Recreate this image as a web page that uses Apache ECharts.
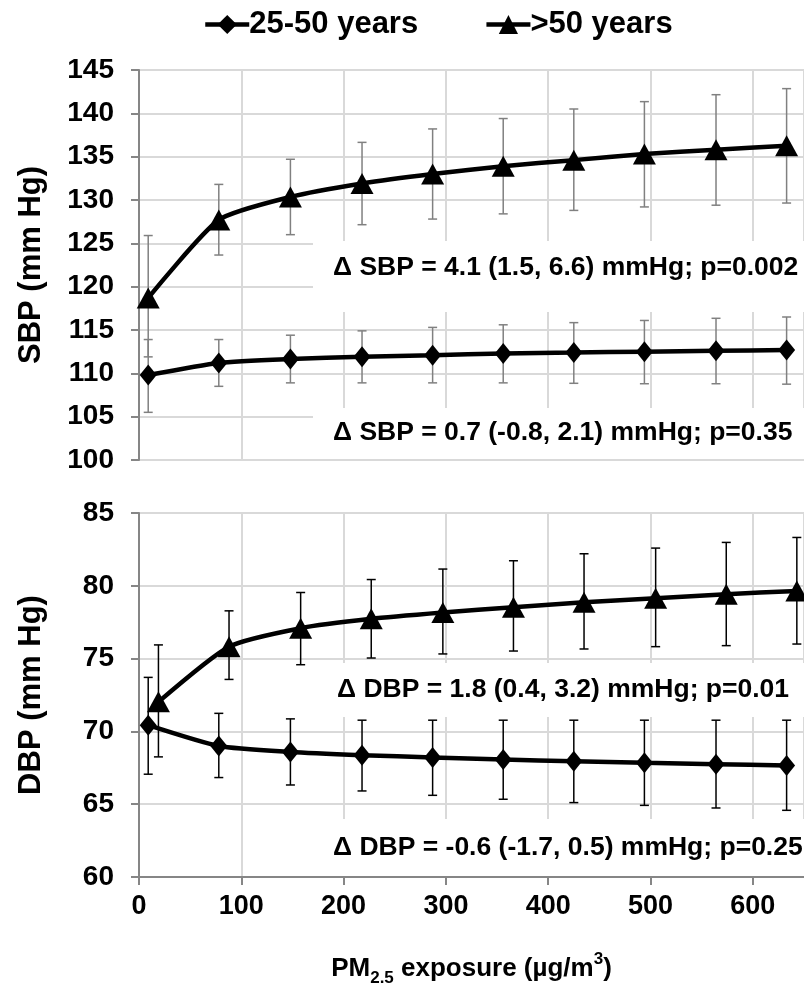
<!DOCTYPE html>
<html>
<head>
<meta charset="utf-8">
<script src="https://cdn.jsdelivr.net/npm/echarts@6/dist/echarts.min.js"></script>
<style>
  html, body { margin: 0; padding: 0; background: #fff; }
  #chart { width: 804px; height: 991px; }
</style>
</head>
<body>
<div id="chart"></div>
<script>
// PM2.5 exposure (µg/m3) at each estimate point
const pmYoung = [9, 78, 148, 218, 287, 356, 425, 494, 564, 633];
const pmOldSbp = [9, 78, 148, 218, 287, 356, 425, 494, 564, 633];
const pmOldDbp = [19, 88, 158, 227, 297, 366, 435, 505, 574, 643];

// Systolic blood pressure (mm Hg): estimate, lower and upper limit
const sbpYoung = [109.8, 111.2, 111.65, 111.9, 112.1, 112.3, 112.4, 112.5, 112.6, 112.7];
const sbpYoungLow = [105.5, 108.5, 108.9, 108.9, 108.9, 108.9, 108.85, 108.8, 108.8, 108.75];
const sbpYoungHigh = [113.9, 113.9, 114.4, 114.9, 115.3, 115.6, 115.85, 116.1, 116.35, 116.5];

const sbpOld = [118.7, 127.7, 130.35, 131.9, 133.0, 133.9, 134.6, 135.3, 135.8, 136.25];
const sbpOldLow = [111.9, 123.65, 126.0, 127.15, 127.8, 128.4, 128.8, 129.2, 129.4, 129.65];
const sbpOldHigh = [125.9, 131.8, 134.7, 136.65, 138.2, 139.4, 140.5, 141.35, 142.15, 142.85];

// Diastolic blood pressure (mm Hg): estimate, lower and upper limit
const dbpYoung = [70.43, 69.0, 68.59, 68.37, 68.21, 68.07, 67.95, 67.84, 67.75, 67.66];
const dbpYoungLow = [67.06, 66.83, 66.32, 65.91, 65.61, 65.34, 65.11, 64.92, 64.74, 64.58];
const dbpYoungHigh = [73.71, 71.24, 70.86, 70.77, 70.77, 70.77, 70.77, 70.77, 70.77, 70.77];

const dbpOld = [72.03, 75.82, 77.09, 77.73, 78.16, 78.53, 78.87, 79.15, 79.42, 79.65];
const dbpOldLow = [68.25, 73.57, 74.58, 75.04, 75.32, 75.52, 75.66, 75.82, 75.89, 76.0];
const dbpOldHigh = [75.94, 78.28, 79.54, 80.43, 81.15, 81.72, 82.2, 82.59, 82.98, 83.32];

const groupNames = ['25-50 years', '>50 years'];
const xTicks = [0, 100, 200, 300, 400, 500, 600];

const notes = [
  '\u0394 SBP = 4.1 (1.5, 6.6) mmHg; p=0.002',
  '\u0394 SBP = 0.7 (-0.8, 2.1) mmHg; p=0.35',
  '\u0394 DBP = 1.8 (0.4, 3.2) mmHg; p=0.01',
  '\u0394 DBP = -0.6 (-1.7, 0.5) mmHg; p=0.25'
];

const FONT = 'Liberation Sans, Arial, sans-serif';
const GRID_COLOR = '#d9d9d9';
const AXIS_COLOR = '#868686';

function pairs(xs, ys) { return xs.map((x, i) => [x, ys[i]]); }
function triples(xs, lo, hi) { return xs.map((x, i) => [x, lo[i], hi[i]]); }

function errorBars(name, gridIdx, xs, lo, hi, color) {
  return {
    type: 'custom',
    name: name,
    xAxisIndex: gridIdx,
    yAxisIndex: gridIdx,
    z: 3,
    silent: true,
    data: triples(xs, lo, hi),
    encode: { x: 0, y: [1, 2] },
    renderItem: function (params, api) {
      const x = api.value(0);
      const pLo = api.coord([x, api.value(1)]);
      const pHi = api.coord([x, api.value(2)]);
      const half = 4.5;
      const style = { stroke: color, lineWidth: 1.5, fill: null };
      return {
        type: 'group',
        children: [
          { type: 'line', shape: { x1: pLo[0], y1: pLo[1], x2: pHi[0], y2: pHi[1] }, style: style },
          { type: 'line', shape: { x1: pLo[0] - half, y1: pLo[1], x2: pLo[0] + half, y2: pLo[1] }, style: style },
          { type: 'line', shape: { x1: pHi[0] - half, y1: pHi[1], x2: pHi[0] + half, y2: pHi[1] }, style: style }
        ]
      };
    }
  };
}

function lineSeries(name, gridIdx, xs, ys, symbol, size) {
  return {
    type: 'line',
    name: name,
    xAxisIndex: gridIdx,
    yAxisIndex: gridIdx,
    z: 4,
    smooth: 0.2,
    symbol: symbol,
    symbolSize: size,
    showAllSymbol: true,
    lineStyle: { color: '#000', width: 4.5 },
    itemStyle: { color: '#000', borderWidth: 0 },
    emphasis: { disabled: true },
    data: pairs(xs, ys)
  };
}

const diamondSize = [17, 21];
const triangleSize = [23, 21];

function xAxisFor(gridIdx, showLabels) {
  return {
    type: 'value',
    gridIndex: gridIdx,
    min: 0,
    max: 650,
    interval: 100,
    axisLine: { show: showLabels, onZero: false, lineStyle: { color: AXIS_COLOR, width: 2 } },
    axisTick: { show: showLabels, inside: false, length: 8, lineStyle: { color: AXIS_COLOR, width: 2 } },
    splitLine: { show: true, lineStyle: { color: GRID_COLOR, width: 2 } },
    axisLabel: {
      show: showLabels,
      showMaxLabel: false,
      margin: 16,
      color: '#000',
      fontFamily: FONT,
      fontWeight: 'bold',
      fontSize: 27,
      formatter: v => (xTicks.indexOf(v) >= 0 ? String(v) : '')
    },
    name: showLabels ? '{t|PM}{sub|2.5}{t| exposure (\u00b5g/m}{sup|3}{t|)}' : '',
    nameLocation: 'middle',
    nameGap: 74,
    nameTextStyle: {
      rich: {
        t: { fontFamily: FONT, fontWeight: 'bold', fontSize: 26, color: '#000', lineHeight: 36, verticalAlign: 'middle' },
        sub: { fontFamily: FONT, fontWeight: 'bold', fontSize: 17, color: '#000', lineHeight: 36, verticalAlign: 'bottom' },
        sup: { fontFamily: FONT, fontWeight: 'bold', fontSize: 17, color: '#000', lineHeight: 36, verticalAlign: 'top' }
      }
    }
  };
}

function yAxisFor(gridIdx, min, max, title) {
  return {
    type: 'value',
    gridIndex: gridIdx,
    min: min,
    max: max,
    interval: 5,
    axisLine: { show: true, onZero: false, lineStyle: { color: AXIS_COLOR, width: 2 } },
    axisTick: { show: true, inside: false, length: 8, lineStyle: { color: AXIS_COLOR, width: 2 } },
    splitLine: { show: true, lineStyle: { color: GRID_COLOR, width: 2 } },
    axisLabel: { margin: 25, color: '#000', fontFamily: FONT, fontWeight: 'bold', fontSize: 28 },
    name: title,
    nameLocation: 'middle',
    nameRotate: 90,
    nameGap: 92,
    nameTextStyle: { color: '#000', fontFamily: FONT, fontWeight: 'bold', fontSize: 31 }
  };
}

// White label panels that sit over the gridlines, with the effect text on top
function notePanel(x, y, w, h, text, tx, ty) {
  return [
    { type: 'rect', z: 1, silent: true, shape: { x: x, y: y, width: w, height: h }, style: { fill: '#fff' } },
    {
      type: 'text', z: 1, silent: true, x: tx, y: ty,
      style: {
        text: text, fill: '#000', font: 'bold 26.5px ' + FONT,
        textAlign: 'left', textVerticalAlign: 'middle'
      }
    }
  ];
}

const chart = echarts.init(document.getElementById('chart'), null, { renderer: 'canvas' });

chart.setOption({
  backgroundColor: '#fff',
  animation: false,
  legend: {
    top: 4,
    left: 198,
    itemWidth: 44,
    itemHeight: 24,
    itemGap: 66,
    data: groupNames,
    lineStyle: { width: 4.5 },
    textStyle: { color: '#000', fontFamily: FONT, fontWeight: 'bold', fontSize: 31, padding: [0, 0, 0, -5] },
    selectedMode: false
  },
  grid: [
    { left: 139, top: 70, width: 666, height: 390, containLabel: false },
    { left: 139, top: 513, width: 666, height: 364, containLabel: false }
  ],
  xAxis: [xAxisFor(0, false), xAxisFor(1, true)],
  yAxis: [
    yAxisFor(0, 100, 145, 'SBP (mm Hg)'),
    yAxisFor(1, 60, 85, 'DBP (mm Hg)')
  ],
  graphic: [
    ...notePanel(313, 241, 495, 71, notes[0], 333, 268),
    ...notePanel(313, 408, 495, 51, notes[1], 333, 433),
    ...notePanel(318, 663, 490, 54, notes[2], 337, 690),
    ...notePanel(318, 819, 490, 57, notes[3], 333, 848)
  ],
  series: [
    errorBars('sbp-young-ci', 0, pmYoung, sbpYoungLow, sbpYoungHigh, '#808080'),
    errorBars('sbp-old-ci', 0, pmOldSbp, sbpOldLow, sbpOldHigh, '#808080'),
    errorBars('dbp-young-ci', 1, pmYoung, dbpYoungLow, dbpYoungHigh, '#000'),
    errorBars('dbp-old-ci', 1, pmOldDbp, dbpOldLow, dbpOldHigh, '#000'),
    lineSeries(groupNames[0], 0, pmYoung, sbpYoung, 'diamond', diamondSize),
    lineSeries(groupNames[1], 0, pmOldSbp, sbpOld, 'triangle', triangleSize),
    lineSeries(groupNames[0], 1, pmYoung, dbpYoung, 'diamond', diamondSize),
    lineSeries(groupNames[1], 1, pmOldDbp, dbpOld, 'triangle', triangleSize)
  ]
});
</script>
</body>
</html>
